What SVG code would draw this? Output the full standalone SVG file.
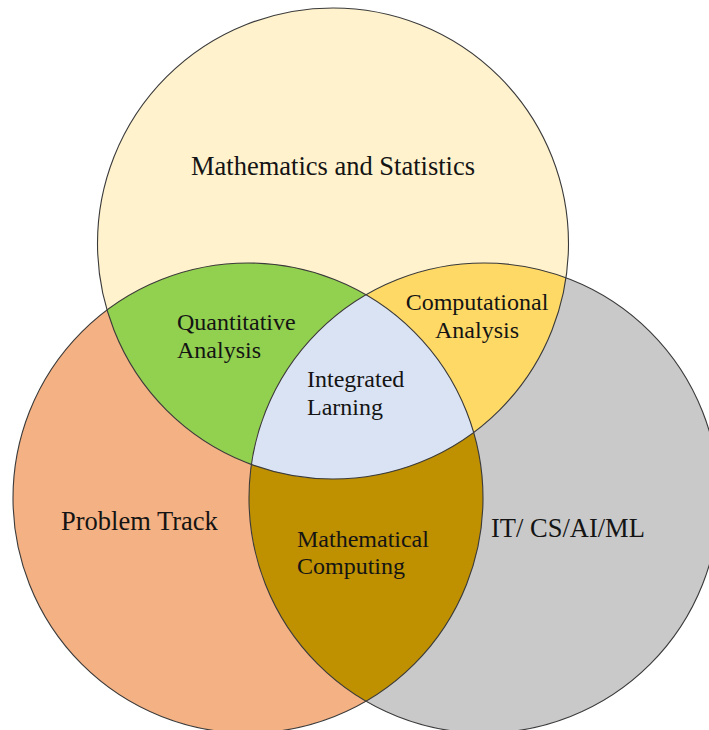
<svg xmlns="http://www.w3.org/2000/svg" width="709" height="730" viewBox="0 0 709 730">
  <style>
    .ring { fill: none; stroke: #3a3a3a; stroke-width: 1.1; }
    .lbl { font-family: "Liberation Serif", "Times New Roman", serif; fill: #141414; }
    .big { font-size: 26.5px; }
    .small { font-size: 24px; }
  </style>
  <defs>
    <!-- the three set circles, reused for fills, clips and outlines -->
    <circle id="cTop" cx="333" cy="243.5" r="235.5"/>
    <circle id="cLeft" cx="248" cy="498" r="235"/>
    <circle id="cRight" cx="484" cy="498" r="235"/>
    <clipPath id="clipTop"><use href="#cTop"/></clipPath>
    <clipPath id="clipLeft"><use href="#cLeft"/></clipPath>
    <clipPath id="clipRight"><use href="#cRight"/></clipPath>
  </defs>

  <rect width="709" height="730" fill="#ffffff"/>

  <!-- single sets -->
  <g id="math-stats">
    <use href="#cTop" fill="#FFF2CC"/>
  </g>
  <g id="problem-track">
    <use href="#cLeft" fill="#F4B183"/>
  </g>
  <g id="it-cs-ai-ml">
    <use href="#cRight" fill="#C9C9C9"/>
  </g>

  <!-- pairwise overlaps -->
  <g id="quantitative-analysis" clip-path="url(#clipTop)">
    <use href="#cLeft" fill="#92D050"/>
  </g>
  <g id="computational-analysis" clip-path="url(#clipTop)">
    <use href="#cRight" fill="#FFD966"/>
  </g>
  <g id="mathematical-computing" clip-path="url(#clipLeft)">
    <use href="#cRight" fill="#BF9000"/>
  </g>

  <!-- centre: all three sets -->
  <g id="integrated-learning" clip-path="url(#clipTop)">
    <g clip-path="url(#clipLeft)">
      <use href="#cRight" fill="#DAE3F3"/>
    </g>
  </g>

  <!-- outlines -->
  <g id="outlines">
    <use href="#cTop" class="ring"/>
    <use href="#cLeft" class="ring"/>
    <use href="#cRight" class="ring"/>
  </g>

  <!-- labels -->
  <g id="labels">
    <text class="lbl big" x="333" y="175" text-anchor="middle">Mathematics  and Statistics</text>
    <text class="lbl small" x="177" y="330">Quantitative</text>
    <text class="lbl small" x="177" y="358">Analysis</text>
    <text class="lbl small" x="477" y="310" text-anchor="middle">Computational</text>
    <text class="lbl small" x="477" y="338" text-anchor="middle">Analysis</text>
    <text class="lbl small" x="307" y="387">Integrated</text>
    <text class="lbl small" x="307" y="415">Larning</text>
    <text class="lbl big" x="61" y="530">Problem Track</text>
    <text class="lbl small" x="297" y="547">Mathematical</text>
    <text class="lbl small" x="297" y="574">Computing</text>
    <text class="lbl big" x="491" y="537">IT/ CS/AI/ML</text>
  </g>
</svg>
